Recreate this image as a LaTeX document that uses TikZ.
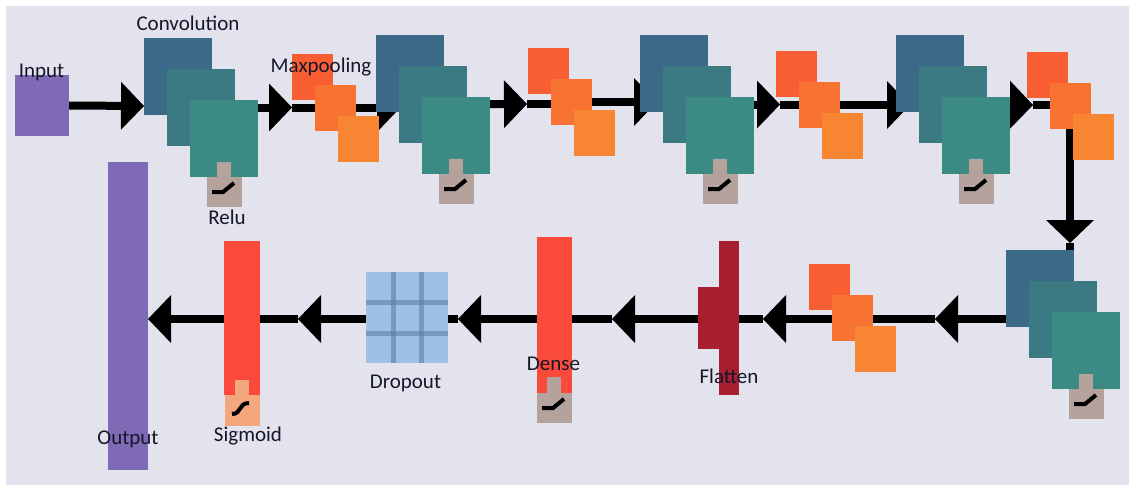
\documentclass[tikz,border=0pt]{standalone}
\usepackage{fontspec}
\setmainfont{Carlito}
\usetikzlibrary{arrows.meta}
\pgfdeclarelayer{canvas}
\pgfdeclarelayer{wires}
\pgfsetlayers{canvas,wires,main}
\definecolor{colBg}{HTML}{E3E3EE}
\definecolor{colPurple}{HTML}{7F6AB5}
\definecolor{colCvA}{HTML}{3D6988}
\definecolor{colCvB}{HTML}{3B7A82}
\definecolor{colCvC}{HTML}{3B8A83}
\definecolor{colRelu}{HTML}{B5A29C}
\definecolor{colMpA}{HTML}{F95E33}
\definecolor{colMpB}{HTML}{F87331}
\definecolor{colMpC}{HTML}{F88532}
\definecolor{colRed}{HTML}{F94A3C}
\definecolor{colSig}{HTML}{F4A77D}
\definecolor{colFlat}{HTML}{A71F30}
\definecolor{colDrop}{HTML}{9FC0E4}
\definecolor{colGrid}{HTML}{5E7FA3}
\definecolor{colText}{HTML}{16162A}
\newcommand\convblock[3]{%
  \node[cvA] (#1a) at (#2,#3) {};
  \node[cvB] (#1b) at (#2+23,#3+31) {};
  \node[cvC] (#1c) at (#2+46,#3+62) {};
  \node[reluBox] (#1r) at (#2+63,#3+139) {};
  \node[reluTab] (#1t) at (#2+73,#3+124) {};
  \draw[actLine] ([shift={(5,15)}]#1r.north west) -- ++(11,0) -- ++(11,-9);
}
\newcommand\poolblock[3]{%
  \node[mpA] (#1a) at (#2,#3) {};
  \node[mpB] (#1b) at (#2+23,#3+31) {};
  \node[mpC] (#1c) at (#2+46,#3+62) {};
}
\begin{document}
\begin{tikzpicture}[x=1pt,y=-1pt,
  box/.style={inner sep=0pt, outer sep=0pt, draw=none, anchor=north west},
  cvA/.style={box, fill=colCvA, minimum width=68pt, minimum height=77pt},
  cvB/.style={box, fill=colCvB, minimum width=68pt, minimum height=77pt},
  cvC/.style={box, fill=colCvC, minimum width=68pt, minimum height=77pt},
  mpA/.style={box, fill=colMpA, minimum width=41pt, minimum height=46pt},
  mpB/.style={box, fill=colMpB, minimum width=41pt, minimum height=46pt},
  mpC/.style={box, fill=colMpC, minimum width=41pt, minimum height=46pt},
  reluBox/.style={box, fill=colRelu, minimum width=35pt, minimum height=30pt},
  reluTab/.style={box, fill=colRelu, minimum width=14pt, minimum height=15pt},
  actLine/.style={line width=4pt, draw=black},
  conn/.style={line width=8pt, draw=black},
  tipArrow/.style={-{Triangle[length=23pt,width=48pt,line width=0pt]}},
  gridLine/.style={line width=5pt, draw=colGrid, opacity=0.6},
  lbl/.style={font=\fontsize{21}{24}\selectfont, text=colText, inner sep=0pt, anchor=base}
]
\useasboundingbox (0,0) rectangle (1134,490);
\begin{pgfonlayer}{canvas}
\fill[colBg] (6,6) rectangle (1129,485);
\end{pgfonlayer}

% ---------- shapes ----------
\node[box, fill=colPurple, minimum width=54pt, minimum height=61pt] (in) at (15,75) {};
\node[box, fill=colPurple, minimum width=40pt, minimum height=308pt] (out) at (108,162) {};

\convblock{c1}{144}{38}
\poolblock{m1}{292}{54}
\convblock{c2}{376}{35}
\poolblock{m2}{528}{48}
\convblock{c3}{640}{35}
\poolblock{m3}{776}{51}
\convblock{c4}{896}{35}
\poolblock{m4}{1027}{52}
\convblock{c5}{1006}{250}
\poolblock{m5}{809}{264}

% flatten
\node[box, fill=colFlat, minimum width=20pt, minimum height=154pt] (fl) at (719,241) {};
\node[box, fill=colFlat, minimum width=41pt, minimum height=62pt] (flw) at (698,287) {};

% dense with relu
\node[box, fill=colRed, minimum width=35pt, minimum height=156pt] (de) at (537,237) {};
\node[reluBox] (der) at (537,393) {};
\node[reluTab, minimum height=16pt] (det) at (547,377) {};
\draw[actLine] ([shift={(5,15)}]der.north west) -- ++(11,0) -- ++(11,-9);

% dropout
\node[box, fill=colDrop, minimum width=82pt, minimum height=91pt] (dr) at (366,272) {};
\draw[gridLine] ([xshift=27pt]dr.north west) -- ([xshift=27pt]dr.south west);
\draw[gridLine] ([xshift=55pt]dr.north west) -- ([xshift=55pt]dr.south west);
\draw[gridLine] ([yshift=-30pt]dr.north west) -- ([yshift=-30pt]dr.north east);
\draw[gridLine] ([yshift=-61pt]dr.north west) -- ([yshift=-61pt]dr.north east);

% sigmoid
\node[box, fill=colRed, minimum width=36pt, minimum height=154pt] (sg) at (224,241) {};
\node[box, fill=colSig, minimum width=14pt, minimum height=15pt] (sgt) at (235,380) {};
\node[box, fill=colSig, minimum width=35pt, minimum height=31pt] (sgr) at (225,395) {};
\draw[actLine] ([shift={(7,19)}]sgr.north west) .. controls ([shift={(17,19)}]sgr.north west) and ([shift={(13,8)}]sgr.north west) .. ([shift={(24,8)}]sgr.north west);

% ---------- connectors (behind the shapes) ----------
\coordinate (t1) at (144,106);
\coordinate (t2) at (292,107.5);
\coordinate (t3) at (400,108);
\coordinate (t4) at (527,104);
\coordinate (t5) at (657,102);
\coordinate (t6) at (780,104.5);
\coordinate (t7) at (910,105);
\coordinate (t8) at (1033,105);
\coordinate (t9) at (1070,243);
\coordinate (u1) at (935,319);
\coordinate (u2) at (763,319);
\coordinate (u3) at (612,319);
\coordinate (u4) at (458,319);
\coordinate (u5) at (298,319);
\coordinate (u6) at (148,319);
\begin{pgfonlayer}{wires}
\draw[conn,tipArrow] (in.east) -- (t1);
\draw[conn] (t1) -- (t1 -| c1b.center);
\draw[conn,tipArrow] (c1b.center) -- (t2);
\draw[conn] (t2) -- (t2 -| m1b.center);
\draw[conn,tipArrow] (m1b.center) -- (t3);
\draw[conn] (t3) -- (t3 -| c2b.center);
\draw[conn,tipArrow] (c2b.center) -- (t4);
\draw[conn] (t4) -- (t4 -| m2b.center);
\draw[conn,tipArrow] (m2b.center) -- (t5);
\draw[conn] (t5) -- (t5 -| c3b.center);
\draw[conn,tipArrow] (c3b.center) -- (t6);
\draw[conn] (t6) -- (t6 -| m3b.center);
\draw[conn,tipArrow] (m3b.center) -- (t7);
\draw[conn] (t7) -- (t7 -| c4b.center);
\draw[conn,tipArrow] (c4b.center) -- (t8);
\draw[conn] (t8) -- (t8 -| m4b.center);
\draw[conn,tipArrow] (m4b.center -| t9) -- (t9);
\draw[conn] (t9) -- (t9 |- c5a.north);
\draw[conn,tipArrow] (c5b.center |- u1) -- (u1);
\draw[conn] (u1) -- (u1 -| m5b.center);
\draw[conn,tipArrow] (m5b.center |- u2) -- (u2);
\draw[conn] (u2) -- (u2 -| fl.center);
\draw[conn,tipArrow] (fl.center |- u3) -- (u3);
\draw[conn] (u3) -- (u3 -| de.center);
\draw[conn,tipArrow] (de.center |- u4) -- (u4);
\draw[conn] (u4) -- (u4 -| dr.center);
\draw[conn,tipArrow] (dr.center |- u5) -- (u5);
\draw[conn] (u5) -- (u5 -| sg.center);
\draw[conn,tipArrow] (sg.center |- u6) -- (u6);
\end{pgfonlayer}

% ---------- labels ----------
\node[lbl] (lInput) at (41.5,77) {Input};
\node[lbl] (lConv) at (188,30) {Convolution};
\node[lbl] (lPool) at (321,72) {Maxpooling};
\node[lbl] (lRelu) at (227,224) {Relu};
\node[lbl] (lSig) at (248,441) {Sigmoid};
\node[lbl] (lDrop) at (405.5,388) {Dropout};
\node[lbl] (lFlat) at (729,383) {Flatten};
\node[lbl] (lDense) at (553.5,370) {Dense};
\node[lbl] (lOut) at (128,444) {Output};
\end{tikzpicture}
\end{document}
